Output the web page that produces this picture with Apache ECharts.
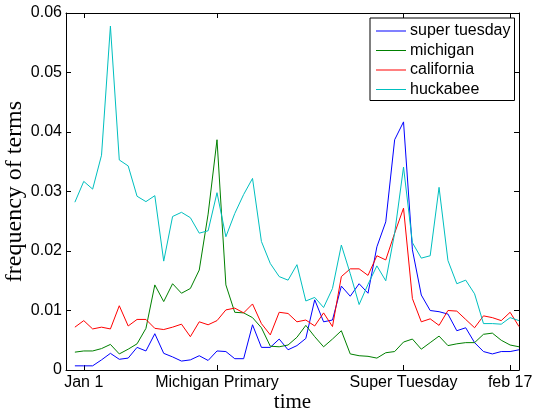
<!DOCTYPE html>
<html>
<head>
<meta charset="utf-8">
<script src="https://cdn.jsdelivr.net/npm/echarts@6/dist/echarts.min.js"></script>
<style>html,body{margin:0;padding:0;background:#fff}#c{width:533px;height:409px}</style>
</head>
<body>
<div id="c"></div>
<script>
// x positions: day index (0..50)
var tickPositions = [1, 16, 37, 49];
var tickLabels = ['Jan 1', 'Michigan Primary', 'Super Tuesday', 'feb 17'];
var yTicks = [0, 0.01, 0.02, 0.03, 0.04, 0.05, 0.06];
var seriesNames = ['super tuesday', 'michigan', 'california', 'huckabee'];

var superTuesday = [0.0007,0.0007,0.0007,0.0017,0.0028,0.0018,0.0020,0.0038,0.0032,0.0061,
  0.0028,0.0022,0.0015,0.0017,0.0024,0.0016,0.0032,0.0031,0.0019,0.0019,
  0.0076,0.0038,0.0038,0.0052,0.0034,0.0041,0.0053,0.0118,0.0081,0.0084,
  0.0141,0.0124,0.0145,0.0129,0.0207,0.0249,0.0387,0.0417,0.0202,0.0126,
  0.0100,0.0098,0.0094,0.0066,0.0071,0.0046,0.0031,0.0027,0.0031,0.0031,0.0034];
var michigan = [0.0030,0.0032,0.0032,0.0036,0.0043,0.0027,0.0035,0.0044,0.0070,0.0143,
  0.0115,0.0145,0.0129,0.0137,0.0168,0.0262,0.0387,0.0143,0.0097,0.0096,
  0.0088,0.0071,0.0040,0.0039,0.0042,0.0055,0.0075,0.0056,0.0039,0.0052,
  0.0066,0.0027,0.0024,0.0023,0.0020,0.0029,0.0031,0.0047,0.0052,0.0035,
  0.0046,0.0057,0.0041,0.0044,0.0046,0.0046,0.0060,0.0062,0.0050,0.0042,0.0039];
var california = [0.0072,0.0083,0.0069,0.0072,0.0069,0.0108,0.0074,0.0085,0.0085,0.0070,
  0.0068,0.0072,0.0077,0.0056,0.0081,0.0076,0.0083,0.0101,0.0104,0.0096,
  0.0111,0.0078,0.0059,0.0097,0.0095,0.0081,0.0084,0.0074,0.0096,0.0073,
  0.0157,0.0170,0.0170,0.0159,0.0192,0.0185,0.0230,0.0272,0.0120,0.0081,
  0.0086,0.0075,0.0100,0.0099,0.0085,0.0071,0.0091,0.0088,0.0083,0.0097,0.0073];
var huckabee = [0.0282,0.0317,0.0304,0.0361,0.0578,0.0353,0.0343,0.0292,0.0283,0.0293,
  0.0183,0.0258,0.0265,0.0256,0.0230,0.0234,0.0298,0.0224,0.0263,0.0295,
  0.0322,0.0216,0.0179,0.0157,0.0151,0.0177,0.0116,0.0122,0.0105,0.0137,
  0.0210,0.0162,0.0110,0.0144,0.0175,0.0150,0.0230,0.0341,0.0214,0.0188,
  0.0192,0.0307,0.0184,0.0145,0.0151,0.0128,0.0078,0.0078,0.0077,0.0088,0.0083];

var colors = ['#0000ff', '#008000', '#ff0000', '#00bfbf'];
var allData = [superTuesday, michigan, california, huckabee];

function pairs(arr) { return arr.map(function (v, i) { return [i, v]; }); }

var chart = echarts.init(document.getElementById('c'), null, {renderer: 'canvas'});
var labelFont = 'Liberation Sans';
var axisCommon = {
  axisLine: {show: true, onZero: false, lineStyle: {color: '#000', width: 1}},
  splitLine: {show: false}
};
chart.setOption({
  animation: false,
  backgroundColor: '#fff',
  grid: {left: 66, right: 14, top: 13, bottom: 39, containLabel: false, outerBoundsMode: 'none'},
  legend: {
    orient: 'vertical', left: 370, top: 18,
    padding: [5, 4, 3, 6], itemGap: 3.5,
    itemWidth: 30, itemHeight: 1, icon: 'rect',
    backgroundColor: '#fff', borderColor: '#000', borderWidth: 1,
    textStyle: {fontFamily: labelFont, fontSize: 16, color: '#000', lineHeight: 16, padding: [0, 0, 0, -1]},
    data: seriesNames
  },
  xAxis: [
    Object.assign({
      type: 'value', min: -1, max: 50, position: 'bottom',
      name: 'time', nameLocation: 'middle', nameGap: 22, nameMoveOverlap: false,
      nameTextStyle: {fontFamily: 'Liberation Serif', fontSize: 21, color: '#000'},
      axisTick: {show: true, inside: true, length: 5, customValues: tickPositions, lineStyle: {color: '#000'}},
      axisLabel: {show: true, customValues: tickPositions, margin: 5,
        fontFamily: labelFont, fontSize: 16, color: '#000',
        formatter: function (v) { var k = tickPositions.indexOf(Math.round(v)); return k >= 0 ? tickLabels[k] : ''; }}
    }, axisCommon),
    Object.assign({
      type: 'value', min: -1, max: 50, position: 'top',
      axisTick: {show: true, inside: true, length: 5, customValues: tickPositions, lineStyle: {color: '#000'}},
      axisLabel: {show: false, customValues: tickPositions}
    }, axisCommon)
  ],
  yAxis: [
    Object.assign({
      type: 'value', min: 0, max: 0.06, interval: 0.01, position: 'left',
      name: 'frequency of terms', nameLocation: 'middle', nameGap: 39, nameRotate: 90, nameMoveOverlap: false,
      nameTextStyle: {fontFamily: 'Liberation Serif', fontSize: 24, color: '#000'},
      axisTick: {show: true, inside: true, length: 5, lineStyle: {color: '#000'}},
      axisLabel: {show: true, margin: 4, fontFamily: labelFont, fontSize: 16, color: '#000',
        formatter: function (v) { var k = yTicks.findIndex(function (t) { return Math.abs(t - v) < 1e-9; }); return k >= 0 ? String(yTicks[k]) : ''; }}
    }, axisCommon),
    Object.assign({
      type: 'value', min: 0, max: 0.06, interval: 0.01, position: 'right',
      axisTick: {show: true, inside: true, length: 5, lineStyle: {color: '#000'}},
      axisLabel: {show: false}
    }, axisCommon)
  ],
  series: seriesNames.map(function (name, k) {
    return {
      name: name, type: 'line', xAxisIndex: 0, yAxisIndex: 0,
      data: pairs(allData[k]),
      symbol: 'none', showSymbol: false,
      lineStyle: {color: colors[k], width: 1},
      itemStyle: {color: colors[k]},
      emphasis: {disabled: true}
    };
  })
});
</script>
</body>
</html>
